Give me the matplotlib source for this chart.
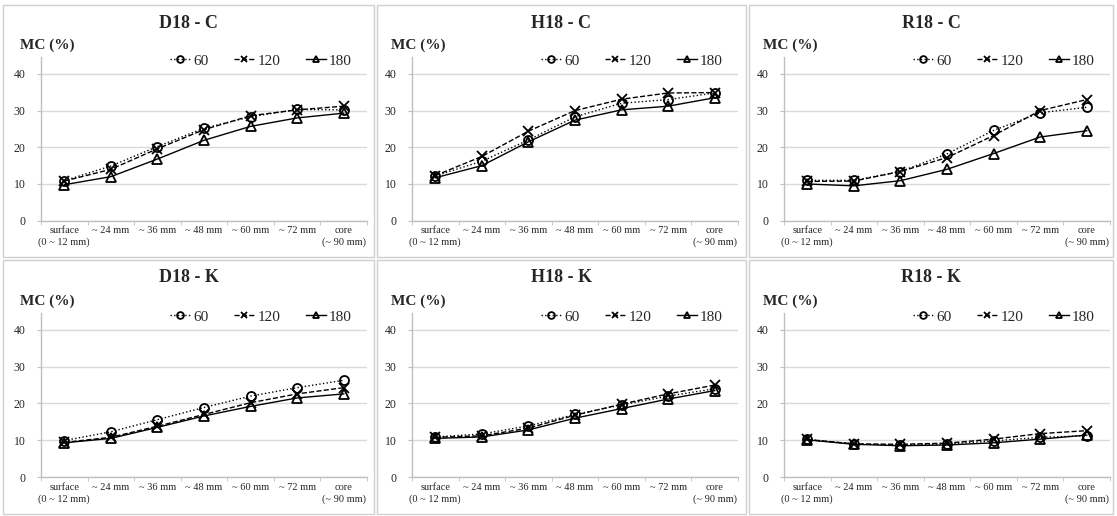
import matplotlib
matplotlib.use("Agg")
import matplotlib.pyplot as plt
from matplotlib.patches import Rectangle
from matplotlib.ticker import FixedLocator

plt.rcParams['font.family'] = ['Liberation Serif', 'DejaVu Serif']

# categories along the depth of the specimen
categories = ["surface\n(0 ~ 12 mm)", "~ 24 mm", "~ 36 mm", "~ 48 mm",
              "~ 60 mm", "~ 72 mm", "core\n(~ 90 mm)"]
series_names = ["60", "120", "180"]
y_ticks = [0, 10, 20, 30, 40]

# MC (%) per panel, per series
d18_c = {"60": [10.9, 14.9, 20.2, 25.2, 28.3, 30.3, 30.2],
         "120": [10.8, 14.0, 19.6, 24.8, 28.6, 30.2, 31.2],
         "180": [9.8, 12.0, 16.8, 21.9, 25.7, 28.0, 29.3]}
h18_c = {"60": [12.2, 16.2, 22.0, 28.3, 32.0, 33.0, 34.8],
         "120": [12.3, 17.5, 24.4, 30.0, 33.1, 34.8, 34.9],
         "180": [11.7, 15.0, 21.5, 27.4, 30.2, 31.2, 33.5]}
r18_c = {"60": [11.0, 11.0, 13.4, 18.2, 24.6, 29.4, 30.9],
         "120": [10.7, 10.8, 13.4, 17.2, 23.2, 30.0, 33.0],
         "180": [10.0, 9.5, 10.9, 14.0, 18.3, 22.8, 24.5]}
d18_k = {"60": [9.9, 12.3, 15.6, 18.9, 22.0, 24.3, 26.3],
         "120": [9.4, 10.8, 13.8, 17.0, 20.2, 22.6, 24.3],
         "180": [9.3, 10.5, 13.5, 16.6, 19.2, 21.5, 22.6]}
h18_k = {"60": [10.9, 11.7, 13.9, 17.0, 19.6, 22.0, 24.0],
         "120": [10.8, 11.2, 13.3, 16.8, 19.8, 22.6, 25.0],
         "180": [10.5, 10.9, 12.8, 16.0, 18.6, 21.2, 23.5]}
r18_k = {"60": [10.2, 9.0, 8.7, 9.0, 9.8, 10.8, 11.2],
         "120": [10.2, 9.0, 8.9, 9.2, 10.3, 11.8, 12.6],
         "180": [10.1, 8.9, 8.5, 8.7, 9.3, 10.3, 11.4]}

panels = [("D18 - C", d18_c), ("H18 - C", h18_c), ("R18 - C", r18_c),
          ("D18 - K", d18_k), ("H18 - K", h18_k), ("R18 - K", r18_k)]

styles = {"60": dict(linestyle=':', marker='o'),
          "120": dict(linestyle='--', marker='x'),
          "180": dict(linestyle='-', marker='^')}

W, H = 1117, 516
fig = plt.figure(figsize=(W / 100, H / 100), dpi=100)

# panel frames (pixels: left, top, right, bottom)
col_frames = [(3, 374), (377, 746), (749, 1113)]
row_frames = [(5, 257), (260, 514)]
col_left = [41, 412, 784]
ax_w = 326
row_axes = [(57, 220.7), (313, 477)]

grey = '#bfbfbf'
txt = '#262626'

for i, (title, data) in enumerate(panels):
    r, c = divmod(i, 3)
    fx0, fx1 = col_frames[c]
    fy0, fy1 = row_frames[r]
    fig.add_artist(Rectangle((fx0 / W, 1 - fy1 / H), (fx1 - fx0) / W, (fy1 - fy0) / H,
                             transform=fig.transFigure, fill=False,
                             edgecolor='#d0d0d0', linewidth=1.0))
    top, bot = row_axes[r]
    ax = fig.add_axes([col_left[c] / W, 1 - bot / H, ax_w / W, (bot - top) / H])

    x = list(range(len(categories)))
    for name in series_names:
        ax.plot(x, data[name], color='black', linewidth=1.0,
                markersize=6.5, markerfacecolor='none', markeredgewidth=1.3,
                label=name, **styles[name])

    ax.set_xlim(-0.5, len(categories) - 0.5)
    ax.set_ylim(0, 44.6)
    ax.set_yticks(y_ticks)
    ax.set_xticks(x)
    ax.set_xticklabels(categories, fontsize=7.5, color=txt, linespacing=1.35)
    ax.xaxis.set_minor_locator(FixedLocator([k - 0.5 for k in range(len(categories) + 1)]))
    ax.tick_params(axis='x', which='major', length=0, pad=4)
    ax.tick_params(axis='x', which='minor', length=3, color=grey, direction='out')
    ax.tick_params(axis='y', length=3, color=grey, labelsize=8.5, labelcolor=txt, pad=8)
    ax.yaxis.grid(True, color='#d9d9d9', linewidth=1.0)
    ax.set_axisbelow(True)
    for s in ['top', 'right']:
        ax.spines[s].set_visible(False)
    for s in ['left', 'bottom']:
        ax.spines[s].set_color(grey)
        ax.spines[s].set_linewidth(1.0)

    leg = ax.legend(loc='center right', bbox_to_anchor=(0.954, 0.976), ncol=3,
                    frameon=False, fontsize=11, handlelength=1.3, handletextpad=0.2,
                    columnspacing=1.7, borderpad=0, borderaxespad=0, markerscale=0.75)
    for t in leg.get_texts():
        t.set_color(txt)

    cx = (fx0 + fx1) / 2
    fig.text(cx / W, 1 - (fy0 + 18) / H, title, ha='center', va='center',
             fontsize=13, fontweight='bold', color=txt)
    fig.text((col_left[c] - 21) / W, 1 - (top - 12) / H, "MC (%)", ha='left',
             va='center', fontsize=11, fontweight='bold', color=txt)

fig.savefig("out.png", dpi=100)
